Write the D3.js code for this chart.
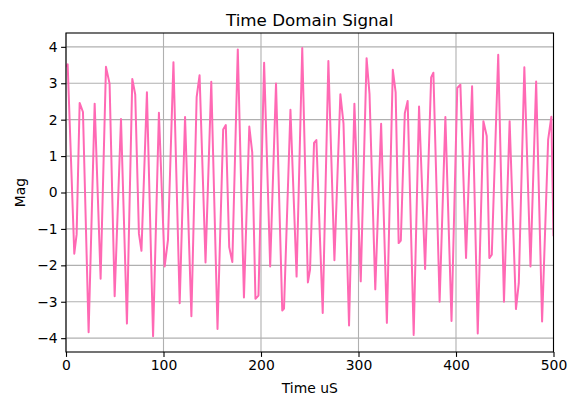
<!DOCTYPE html>
<html>
<head>
<meta charset="utf-8">
<script src="https://cdn.jsdelivr.net/npm/d3@7"></script>
<style>
  html, body { margin: 0; padding: 0; background: #fff; }
  svg { display: block; font-family: "DejaVu Sans", sans-serif; }
</style>
</head>
<body>
<svg id="chart" width="568" height="396"></svg>
<script>
// Sample times (µs) and magnitudes of the time-domain signal
const timeUs = [
  0, 1.7, 8.5, 10.9, 14.0, 17.4, 23.2, 29.4, 35.5, 41.0, 44.7, 49.9, 56.4, 62.5, 68.0, 71.0,
  74.8, 77.4, 83.0, 89.3, 95.3, 101.2, 104.6, 110.2, 116.6, 122.1, 128.6, 134.0, 137.0, 143.1,
  149.0, 155.4, 161.2, 163.9, 167.4, 170.6, 176.2, 182.5, 188.0, 191.0, 194.3, 197.4, 203.2,
  209.4, 215.4, 221.8, 223.6, 230.2, 236.5, 242.3, 248.1, 250.3, 254.4, 256.8, 263.3, 269.1,
  275.3, 281.4, 284.6, 290.3, 295.8, 302.3, 308.3, 311.3, 317.2, 323.2, 329.1, 335.2, 338.1,
  341.2, 343.4, 347.5, 350.4, 356.6, 362.1, 368.3, 374.5, 376.8, 383.2, 389.1, 395.4, 401.3,
  404.5, 410.3, 416.5, 422.3, 428.1, 431.5, 434.2, 436.7, 443.3, 449.2, 455.0, 461.5, 464.4,
  470.1, 476.4, 482.2, 488.3, 494.5, 497.8, 500
];
const mag = [
  3.45, 3.52, -1.68, -1.15, 2.46, 2.21, -3.84, 2.44, -2.37, 3.45, 2.99, -2.85, 2.02, -3.60, 3.12, 2.69,
  -1.13, -1.60, 2.75, -3.95, 2.19, -2.03, -1.30, 3.58, -3.04, 2.07, -3.40, 2.62, 3.22, -1.92,
  3.04, -3.75, 1.73, 1.85, -1.50, -1.91, 3.93, -2.88, 1.81, 1.10, -2.92, -2.83, 3.56,
  -2.03, 2.99, -3.24, -3.19, 2.27, -2.31, 3.97, -2.47, -2.12, 1.36, 1.44, -3.31, 3.61,
  -1.86, 2.70, 1.90, -3.65, 2.44, -2.44, 3.69, 2.70, -2.66, 1.89, -3.58, 3.37, 2.75,
  -1.39, -1.32, 2.18, 2.51, -3.91, 2.36, -2.10, 3.16, 3.29, -3.00, 2.07, -3.53, 2.87,
  2.96, -1.80, 2.92, -3.87, 1.96, 1.55, -1.80, -1.71, 3.78, -3.00, 1.96, -3.20, -2.49,
  3.44, -2.03, 3.05, -3.54, 1.45, 2.08, -1.20
];
const xTickValues = [0, 100, 200, 300, 400, 500];
const yTickValues = [-4, -3, -2, -1, 0, 1, 2, 3, 4];

const titleText = "Time Domain Signal";
const xLabelText = "Time uS";
const yLabelText = "Mag";

const svg = d3.select("#chart");
const plot = { left: 66, right: 553.5, top: 33, bottom: 352 };

const x = d3.scaleLinear().domain([0, 500]).range([plot.left, plot.right]);
const y = d3.scaleLinear().domain([-4.38, 4.38]).range([plot.bottom, plot.top]);

const fmt = v => String(v).replace("-", "\u2212");
const gridColor = "#b0b0b0";

// grid lines
svg.append("g")
  .selectAll("line.vx")
  .data(xTickValues)
  .join("line")
  .attr("x1", d => x(d)).attr("x2", d => x(d))
  .attr("y1", plot.top).attr("y2", plot.bottom)
  .attr("stroke", gridColor).attr("stroke-width", 1.1);

svg.append("g")
  .selectAll("line.hy")
  .data(yTickValues)
  .join("line")
  .attr("x1", plot.left).attr("x2", plot.right)
  .attr("y1", d => y(d)).attr("y2", d => y(d))
  .attr("stroke", gridColor).attr("stroke-width", 1.1);

// signal trace
svg.append("clipPath").attr("id", "plotClip")
  .append("rect")
  .attr("x", plot.left).attr("y", plot.top)
  .attr("width", plot.right - plot.left).attr("height", plot.bottom - plot.top);

const line = d3.line()
  .x((d, i) => x(timeUs[i]))
  .y(d => y(d));

svg.append("path")
  .datum(mag)
  .attr("clip-path", "url(#plotClip)")
  .attr("fill", "none")
  .attr("stroke", "#ff69b4")
  .attr("stroke-width", 2)
  .attr("stroke-linejoin", "round")
  .attr("d", line);

// axes
const xAxis = d3.axisBottom(x).tickValues(xTickValues).tickFormat(fmt)
  .tickSizeInner(4.9).tickSizeOuter(0).tickPadding(3.5);
const yAxis = d3.axisLeft(y).tickValues(yTickValues).tickFormat(fmt)
  .tickSizeInner(4.9).tickSizeOuter(0).tickPadding(3.5);

const gx = svg.append("g").attr("transform", `translate(0,${plot.bottom})`).call(xAxis);
const gy = svg.append("g").attr("transform", `translate(${plot.left},0)`).call(yAxis);

[gx, gy].forEach(g => {
  g.select(".domain").remove();
  g.selectAll(".tick line").attr("stroke", "#000").attr("stroke-width", 1.1);
  g.selectAll(".tick text")
    .attr("fill", "#000")
    .style("font-family", "'DejaVu Sans', sans-serif")
    .style("font-size", "13.9px");
});

// frame
svg.append("rect")
  .attr("x", plot.left).attr("y", plot.top)
  .attr("width", plot.right - plot.left).attr("height", plot.bottom - plot.top)
  .attr("fill", "none").attr("stroke", "#000").attr("stroke-width", 1.1);

// title and axis labels
svg.append("text")
  .attr("x", (plot.left + plot.right) / 2).attr("y", 26)
  .attr("text-anchor", "middle")
  .style("font-size", "16.7px")
  .text(titleText);

svg.append("text")
  .attr("x", (plot.left + plot.right) / 2).attr("y", 393)
  .attr("text-anchor", "middle")
  .style("font-size", "13.9px")
  .text(xLabelText);

svg.append("text")
  .attr("transform", `translate(25,${(plot.top + plot.bottom) / 2}) rotate(-90)`)
  .attr("text-anchor", "middle")
  .style("font-size", "13.9px")
  .text(yLabelText);
</script>
</body>
</html>
